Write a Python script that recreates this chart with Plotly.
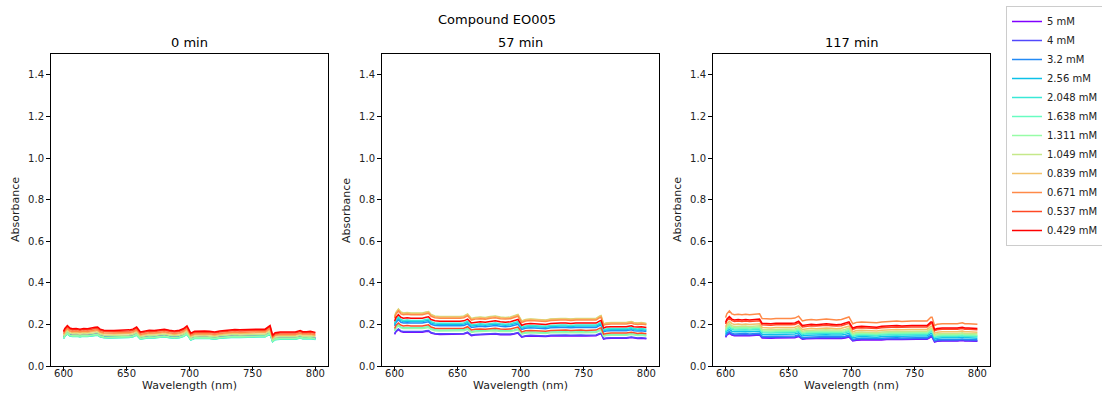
import plotly.graph_objects as go

W, H = 1102, 401

wavelength = [600, 601, 603, 605, 607, 610, 613, 616, 619, 622, 625, 627, 629, 632, 636, 640,
              644, 648, 652, 655, 658, 661, 664, 668, 672, 676, 680, 684, 688, 692, 695, 698,
              701, 704, 708, 712, 716, 720, 724, 728, 732, 736, 740, 744, 748, 752, 756, 760,
              763, 764, 766, 768, 772, 776, 780, 784, 788, 790, 793, 796, 800]

# relative spectral profile per panel
profile_0min = [0.97, 1.05, 1.13, 1.06, 1.04, 1.05, 1.03, 1.05, 1.04, 1.05, 1.08, 1.09, 1.03, 1.00, 0.99, 0.99,
                1.00, 1.00, 1.01, 1.03, 1.09, 0.95, 0.98, 1.00, 0.99, 1.01, 1.03, 1.00, 0.98, 1.00, 1.04, 1.12,
                0.92, 0.97, 0.98, 0.98, 0.97, 0.95, 0.98, 1.00, 1.02, 1.02, 1.01, 1.02, 1.03, 1.03, 1.03, 1.03,
                1.12, 1.13, 0.86, 0.93, 0.95, 0.95, 0.96, 0.95, 0.99, 0.96, 0.96, 0.97, 0.94]
profile_57min = [1.00, 1.08, 1.15, 1.09, 1.07, 1.08, 1.07, 1.07, 1.06, 1.07, 1.09, 1.10, 1.04, 1.01, 1.00, 1.00,
                 1.00, 0.99, 1.00, 1.01, 1.05, 0.96, 0.98, 0.99, 0.98, 1.00, 1.01, 0.99, 0.98, 0.99, 1.01, 1.04,
                 0.91, 0.94, 0.95, 0.94, 0.94, 0.93, 0.95, 0.96, 0.96, 0.96, 0.95, 0.96, 0.96, 0.95, 0.96, 0.96,
                 1.01, 1.02, 0.85, 0.87, 0.88, 0.88, 0.87, 0.88, 0.90, 0.88, 0.87, 0.88, 0.86]
profile_117min = [1.02, 1.10, 1.16, 1.10, 1.08, 1.09, 1.08, 1.09, 1.08, 1.09, 1.10, 1.10, 1.00, 0.99, 0.99, 1.00,
                  1.00, 0.99, 1.00, 1.01, 1.05, 0.95, 0.97, 0.98, 0.97, 0.98, 0.99, 0.98, 0.97, 0.98, 1.00, 1.035,
                  0.89, 0.92, 0.93, 0.925, 0.92, 0.91, 0.93, 0.94, 0.95, 0.95, 0.94, 0.95, 0.95, 0.95, 0.95, 0.95,
                  1.03, 1.03, 0.855, 0.88, 0.89, 0.89, 0.88, 0.89, 0.91, 0.89, 0.89, 0.89, 0.88]

concentrations = ["5 mM", "4 mM", "3.2 mM", "2.56 mM", "2.048 mM", "1.638 mM",
                  "1.311 mM", "1.049 mM", "0.839 mM", "0.671 mM", "0.537 mM", "0.429 mM"]

# absorbance level of each concentration (near 645 nm) in each panel
level_0min = [0.143, 0.142, 0.140, 0.138, 0.136, 0.137, 0.140, 0.148, 0.155, 0.160, 0.167, 0.172]
level_57min = [0.152, 0.155, 0.193, 0.200, 0.205, 0.172, 0.168, 0.238, 0.236, 0.230, 0.180, 0.215]
level_117min = [0.135, 0.138, 0.143, 0.152, 0.160, 0.165, 0.170, 0.176, 0.185, 0.228, 0.198, 0.205]

colors = ["#8000ff", "#5148fc", "#238af5", "#0cc1e8", "#3ae8d7", "#68fcc1",
          "#97fca7", "#c5e88a", "#f3c16a", "#ff8a48", "#ff4824", "#ff0000"]

panel_titles = ["0 min", "57 min", "117 min"]
profiles = [profile_0min, profile_57min, profile_117min]
levels = [level_0min, level_57min, level_117min]

x_ticks = [600, 650, 700, 750, 800]
y_ticks = [0.0, 0.2, 0.4, 0.6, 0.8, 1.0, 1.2, 1.4]

# panel pixel boxes (left, right)
x_px = [(51, 328), (382, 659), (713, 990)]
y_top, y_bot = 54, 366

fig = go.Figure()
font = "DejaVu Sans"

for p in range(3):
    ax = "" if p == 0 else str(p + 1)
    for i, name in enumerate(concentrations):
        ys = [v * levels[p][i] for v in profiles[p]]
        fig.add_trace(go.Scatter(
            x=wavelength, y=ys, mode="lines", name=name,
            line=dict(color=colors[i], width=1.5),
            showlegend=(p == 0), legendgroup=name,
            xaxis="x" + ax, yaxis="y" + ax,
        ))
    l, r = x_px[p]
    axis_common = dict(showline=True, linecolor="black", linewidth=1, mirror=True,
                       ticks="outside", ticklen=4, tickwidth=1, tickcolor="black",
                       showgrid=False, zeroline=False,
                       tickfont=dict(family=font, size=10, color="#222222"))
    fig.update_layout(**{
        "xaxis" + ax: dict(domain=[l / W, r / W], range=[590, 810], tickvals=x_ticks,
                           ticklabelstandoff=-6,
                           anchor="y" + ax, **axis_common),
        "yaxis" + ax: dict(domain=[(H - y_bot) / H, (H - y_top) / H], range=[0, 1.5],
                           tickvals=y_ticks, ticktext=[f"{v:.1f}" for v in y_ticks],
                           anchor="x" + ax, **axis_common),
    })
    fig.add_annotation(text=panel_titles[p], x=(l + r) / 2 / W, y=(H - 43) / H,
                       xref="paper", yref="paper", xanchor="center", yanchor="middle",
                       showarrow=False, font=dict(family=font, size=13, color="black"))
    fig.add_annotation(text="Wavelength (nm)", x=(l + r) / 2 / W, y=(H - 385) / H,
                       xref="paper", yref="paper", xanchor="center", yanchor="middle",
                       showarrow=False, font=dict(family=font, size=11, color="#222222"))
    fig.add_annotation(text="Absorbance", x=(l - 36) / W, y=(H - (y_top + y_bot) / 2) / H,
                       xref="paper", yref="paper", xanchor="center", yanchor="middle",
                       textangle=-90, showarrow=False,
                       font=dict(family=font, size=11, color="#222222"))

fig.add_annotation(text="Compound EO005", x=497 / W, y=(H - 19) / H, xref="paper", yref="paper",
                   xanchor="center", yanchor="middle", showarrow=False,
                   font=dict(family=font, size=13, color="black"))

fig.update_layout(
    width=W, height=H, margin=dict(l=0, r=0, t=0, b=0, autoexpand=False),
    paper_bgcolor="white", plot_bgcolor="white",
    font=dict(family=font, size=10, color="black"),
    legend=dict(x=1006 / W, y=1 - 6 / H, xanchor="left", yanchor="top",
                bordercolor="#cccccc", borderwidth=1, bgcolor="white",
                font=dict(family=font, size=10, color="#222222"),
                tracegroupgap=0, itemwidth=30),
)

fig.write_html("out.html", config={"displayModeBar": False},
               post_script="document.body.style.margin='0px';")
